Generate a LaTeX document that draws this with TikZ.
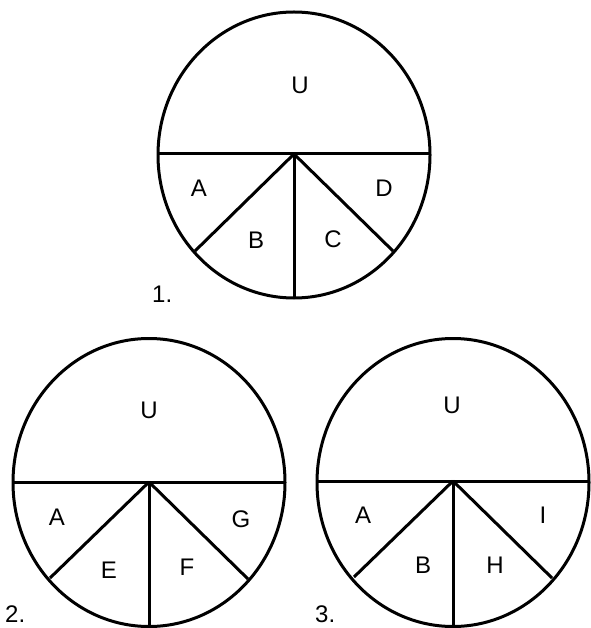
\documentclass[tikz,border=0pt]{standalone}
\usepackage{fontspec}
\setmainfont{Liberation Sans}
\newcommand{\bigfnt}{\fontsize{24pt}{28pt}\selectfont}
\begin{document}
\begin{tikzpicture}[x=1pt,y=-1pt,
  part/.style={line width=3pt,line cap=butt},
  lbl/.style={font=\bigfnt,inner sep=0pt},
  lab/.style={font=\bigfnt,inner sep=0pt,text depth=0pt,anchor=base west}]
\useasboundingbox (0,0) rectangle (590,628);
% ---------- circle 1 ----------
\coordinate (c1) at (294,154);
\coordinate (c1l) at (158,154);
\coordinate (c1r) at (430,154);
\coordinate (c1a) at (195,251);
\coordinate (c1b) at (294,297);
\coordinate (c1c) at (393,251);
\draw[part] (294,155) ellipse [x radius=136, y radius=143];
\draw[part] (c1l) -- (c1r);
\draw[part] (c1) -- (c1a);
\draw[part] (c1) -- (c1b);
\draw[part] (c1) -- (c1c);
\node[lbl] (u1) at (300,85) {U};
\node[lbl] (a1) at (199,188) {A};
\node[lbl] (b1) at (256,240) {B};
\node[lbl] (cc1) at (333,239) {C};
\node[lbl] (d1) at (384,188) {D};
\node[lab] (n1) at (152,302) {1.};
% ---------- circle 2 ----------
\coordinate (c2) at (149,482);
\coordinate (c2l) at (13,482);
\coordinate (c2r) at (285,482);
\coordinate (c2a) at (50,578);
\coordinate (c2b) at (149,628);
\coordinate (c2c) at (248,579);
\draw[part] (149,482.5) ellipse [x radius=136, y radius=144];
\draw[part] (c2l) -- (c2r);
\draw[part] (c2) -- (c2a);
\draw[part] (c2) -- (c2b);
\draw[part] (c2) -- (c2c);
\node[lbl] (u2) at (149,410) {U};
\node[lbl] (a2) at (57,517) {A};
\node[lbl] (e2) at (109,570) {E};
\node[lbl] (f2) at (187,567) {F};
\node[lbl] (g2) at (241,519) {G};
\node[lab] (n2) at (5,622) {2.};
% ---------- circle 3 ----------
\coordinate (c3) at (453,481);
\coordinate (c3l) at (317,481);
\coordinate (c3r) at (590,481);
\coordinate (c3a) at (354,577);
\coordinate (c3b) at (453,628);
\coordinate (c3c) at (552,578);
\draw[part] (453,482.5) ellipse [x radius=136, y radius=144];
\draw[part] (c3l) -- (c3r);
\draw[part] (c3) -- (c3a);
\draw[part] (c3) -- (c3b);
\draw[part] (c3) -- (c3c);
\node[lbl] (u3) at (452,405) {U};
\node[lbl] (a3) at (363,515) {A};
\node[lbl] (b3) at (423,565) {B};
\node[lbl] (h3) at (495,565) {H};
\node[lbl] (i3) at (543,515) {I};
\node[lab] (n3) at (315,622) {3.};
\end{tikzpicture}
\end{document}
